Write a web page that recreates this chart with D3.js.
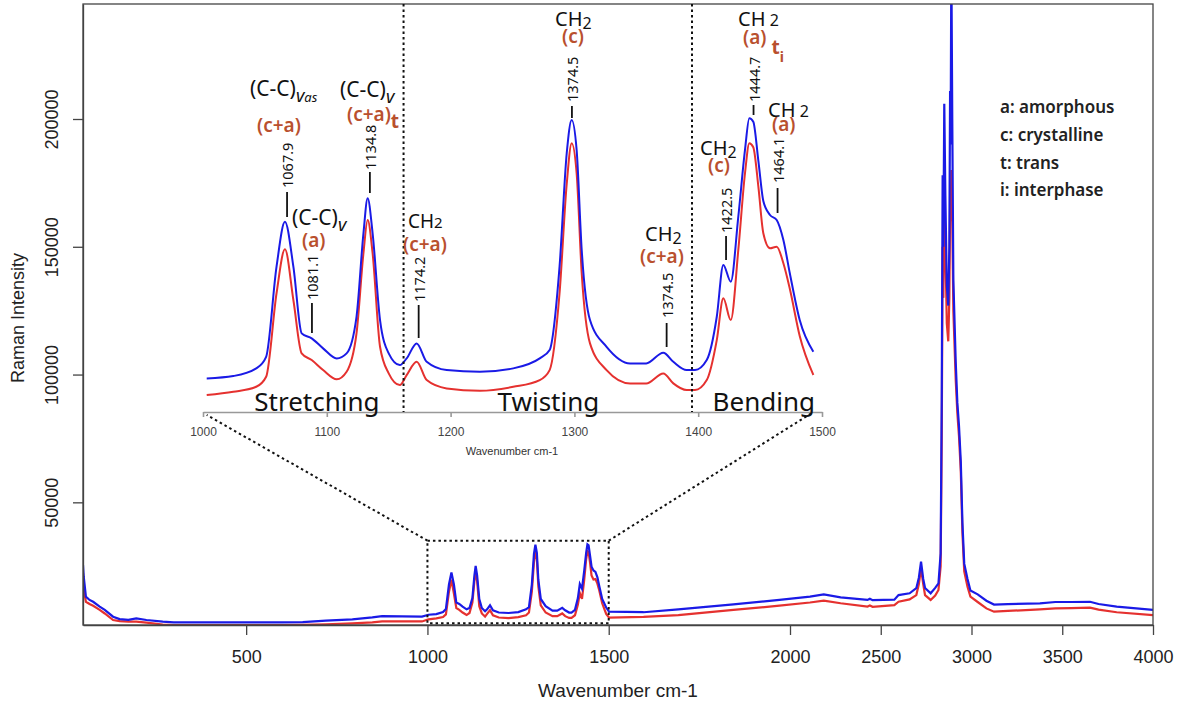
<!DOCTYPE html>
<html>
<head>
<meta charset="utf-8">
<script src="https://cdn.jsdelivr.net/npm/d3@7"></script>
<style>
body { margin: 0; background: #fff; }
text { font-family: "Noto Sans", sans-serif; }
.axis text { font-family: "Liberation Sans", Arial, sans-serif; }
</style>
</head>
<body>
<div id="chart"></div>
<script>
// ---- spectrum, low part (50 - 1000 cm-1)
var lowWn   = [50, 52, 58, 68, 78, 96, 110, 133, 151, 175, 197, 225, 270, 300, 400, 500, 600, 656, 720, 793, 848, 875, 930, 985];
var lowBlue = [25500, 20900, 13100, 11800, 11100, 9200, 7900, 5250, 4300, 4000, 4600, 3950, 3300, 3050, 3050, 3050, 3050, 3100, 3700, 4200, 5000, 5500, 5400, 5300];
var lowRed  = [22300, 16000, 11100, 10200, 9500, 7900, 6500, 3950, 3500, 3300, 3300, 2900, 2200, 2000, 2000, 2000, 2000, 2050, 2300, 2650, 3000, 3400, 3400, 3400];

// ---- zoomed part (1000 - 1500 cm-1), used in the inset too
var zoomWn   = [1003, 1024.5, 1043, 1051, 1059.4, 1066.2, 1073, 1079.7, 1087.8, 1097, 1108, 1116, 1124, 1129.6, 1133, 1137, 1143, 1150, 1159, 1164.5,
                1172.6, 1180.7, 1196.8, 1223.7, 1250.6, 1272, 1280, 1288, 1293.8, 1297.8, 1301.8, 1305.9, 1312.6, 1326, 1345, 1358, 1371.8, 1379.9, 1390.7, 1397.4,
                1406.9, 1415, 1420.3, 1426.3, 1432.4, 1437.8, 1441.3, 1444.5, 1448.6, 1452.6, 1458, 1463.4, 1468.8, 1474, 1482, 1493];
var zoomBlue = [6000, 6250, 7060, 8290, 17840, 22600, 17840, 10770, 10240, 9180, 8120, 8650, 12530, 21380, 25090, 21380, 12180, 8650, 7410, 8120,
                9710, 7760, 6880, 6700, 7060, 8120, 9000, 17840, 29860, 33390, 30210, 19610, 12180, 9350, 7590, 7590, 8720, 7760, 6880, 6880,
                7940, 12530, 18020, 16250, 23140, 30210, 33570, 33210, 29050, 24800, 23320, 22790, 20670, 17140, 12180, 8820];
var zoomRed  = [4230, 4580, 5110, 6170, 15020, 19680, 14310, 8650, 7940, 6880, 5900, 6700, 10770, 19260, 22790, 19260, 9350, 6530, 5290, 6350,
                7760, 5820, 4940, 4690, 5110, 5820, 6880, 15020, 26610, 30930, 27750, 17140, 9710, 6880, 5470, 5470, 6530, 5470, 4760, 4760,
                5820, 10060, 14490, 12180, 19610, 27740, 30930, 30500, 26320, 21380, 19790, 19960, 18200, 15500, 10500, 6360];

// ---- high part (1500 - 4000 cm-1)
var highWn   = [1501, 1596, 1692, 1844, 1971, 2110, 2186, 2279, 2427, 2440, 2455, 2575, 2598, 2659, 2696, 2710, 2722, 2734, 2744, 2775, 2800, 2818, 2830,
                2836, 2841, 2845, 2850, 2856, 2864, 2872, 2878, 2882, 2885, 2889, 2894, 2900, 2913, 2922, 2931, 2941, 2950, 2960, 2978, 2994, 3034, 3082,
                3124, 3200, 3377, 3462, 3550, 3653, 3700, 3800, 4000];
var highBlue = [7200, 7000, 8100, 10100, 11800, 13100, 14000, 12800, 11800, 12300, 11700, 11900, 13700, 14400, 16400, 20500, 26800, 20000, 16500, 14400, 16500, 18300, 30000,
                90000, 178000, 150000, 206000, 170000, 135000, 127000, 150000, 211000, 190000, 262000, 200000, 137000, 105000, 89000, 80000, 66000, 42000, 26000, 20000, 15500, 14000, 11500,
                10000, 10200, 10500, 11000, 11000, 11100, 10200, 9200, 7900];
var highRed  = [4850, 5200, 5900, 7900, 9550, 10800, 11500, 10500, 9200, 9600, 9100, 9800, 11100, 12000, 13700, 18000, 24200, 18000, 13700, 11800, 13500, 15700, 25000,
                75000, 150000, 130000, 165000, 150000, 120000, 113000, 130000, 165000, 160000, 180000, 160000, 125000, 98000, 85000, 76000, 62000, 38000, 23000, 17000, 13100, 11000, 8500,
                7200, 7500, 8100, 8500, 8600, 8800, 8000, 7000, 5900];

var xTicks = [500, 1000, 1500, 2000, 2500, 3000, 3500, 4000];
var yTicks = [50000, 100000, 150000, 200000];
var insetTicks = [1000, 1100, 1200, 1300, 1400, 1500];

var peakWn   = [1067.9, 1088, 1134.8, 1174.2, 1298, 1374.5, 1422.5, 1444.7, 1464.1];
var peakText = ["1067.9", "1081.1", "1134.8", "1174.2", "1374.5", "1374.5", "1422.5", "1444.7", "1464.1"];

var dividerWn  = [1162, 1395];
var regionWn   = [1092, 1279, 1453];
var regionText = ["Stretching", "Twisting", "Bending"];

var legendText = ["a: amorphous", "c: crystalline", "t: trans", "i: interphase"];

// ---- layout
var W = 1181, H = 701;
var blue = "#1a1ae6", red = "#e5312f", brown = "#b9502e";
var markTextBottom = [188, 300, 170, 302, 102, 318, 233, 102, 183];
var markTop        = [192, 303, 172, 305, 106, 323, 236, 105, 188];
var markBottom     = [217, 333, 193, 338, 118, 347, 260, 115, 213];

var svg = d3.select("#chart").append("svg").attr("width", W).attr("height", H);

var x = d3.scaleLinear().domain([50, 2000, 4000]).range([83, 790, 1153]);
var y = d3.scaleLinear().domain([2000, 245000]).range([625, 4]);
var ix = d3.scaleLinear().domain([1000, 1500]).range([203, 822]);
var iy = d3.scaleLinear().domain([0, 46100]).range([435, 0]);

function pts(w, v) { return w.map(function (d, i) { return [d, v[i]]; }); }
var blueAll = pts(lowWn.concat(zoomWn, highWn), lowBlue.concat(zoomBlue, highBlue));
var redAll  = pts(lowWn.concat(zoomWn, highWn), lowRed.concat(zoomRed, highRed));

svg.append("clipPath").attr("id", "clip").append("rect")
    .attr("x", 83).attr("y", 4).attr("width", 1070).attr("height", 621);

var mainLine = d3.line().x(function (d) { return x(d[0]); }).y(function (d) { return y(d[1]); });
var g = svg.append("g").attr("clip-path", "url(#clip)");
g.append("path").attr("d", mainLine(redAll)).attr("fill", "none").attr("stroke", red).attr("stroke-width", 2.2);
g.append("path").attr("d", mainLine(blueAll)).attr("fill", "none").attr("stroke", blue).attr("stroke-width", 2.2);

// axes
var xa = svg.append("g").attr("class", "axis").attr("transform", "translate(0,625)")
    .call(d3.axisBottom(x).tickValues(xTicks).tickSize(10).tickSizeOuter(0).tickPadding(15).tickFormat(d3.format("d")));
xa.selectAll("text").attr("font-size", 18).attr("fill", "#222");
xa.selectAll("line,path").attr("stroke", "#444").attr("stroke-width", 1.3);

var ya = svg.append("g").attr("class", "axis").attr("transform", "translate(83,0)")
    .call(d3.axisLeft(y).tickValues(yTicks).tickSize(10).tickSizeOuter(0).tickFormat(d3.format("d")));
ya.selectAll("line,path").attr("stroke", "#444").attr("stroke-width", 1.3);
ya.selectAll("text").attr("font-size", 18).attr("fill", "#222")
    .attr("text-anchor", "middle").attr("dy", null).attr("dominant-baseline", "central")
    .attr("x", 0).attr("transform", "translate(-31,0) rotate(-90)");

svg.append("rect").attr("x", 83).attr("y", 4).attr("width", 1070).attr("height", 621)
    .attr("fill", "none").attr("stroke", "#444").attr("stroke-width", 1.3);

svg.append("text").attr("x", 618).attr("y", 697).attr("text-anchor", "middle")
    .style("font-family", "Liberation Sans, Arial, sans-serif").attr("font-size", 19).attr("fill", "#222")
    .text("Wavenumber cm-1");
svg.append("text").attr("transform", "translate(24,318) rotate(-90)").attr("text-anchor", "middle")
    .style("font-family", "Liberation Sans, Arial, sans-serif").attr("font-size", 18).attr("fill", "#222")
    .text("Raman Intensity");

// zoom box and connectors
var dots = "2.5,3";
var boxTop = y(35000), boxBot = y(2700);
svg.append("rect").attr("x", x(1000)).attr("y", boxTop).attr("width", x(1500) - x(1000)).attr("height", boxBot - boxTop)
    .attr("fill", "none").attr("stroke", "#111").attr("stroke-width", 2).attr("stroke-dasharray", dots);
svg.append("line").attr("x1", x(1000)).attr("y1", boxTop).attr("x2", ix(zoomWn[0])).attr("y2", 415)
    .attr("stroke", "#111").attr("stroke-width", 2).attr("stroke-dasharray", dots);
svg.append("line").attr("x1", x(1500)).attr("y1", boxTop).attr("x2", ix(zoomWn[zoomWn.length - 1])).attr("y2", 412)
    .attr("stroke", "#111").attr("stroke-width", 2).attr("stroke-dasharray", dots);

// inset
var inset = svg.append("g");
var insetLine = d3.line().curve(d3.curveMonotoneX)
    .x(function (d) { return ix(d[0]); }).y(function (d) { return iy(d[1]); });
inset.append("path").attr("d", insetLine(pts(zoomWn, zoomRed))).attr("fill", "none").attr("stroke", red).attr("stroke-width", 2);
inset.append("path").attr("d", insetLine(pts(zoomWn, zoomBlue))).attr("fill", "none").attr("stroke", blue).attr("stroke-width", 2);

var ia = inset.append("g").attr("class", "axis").attr("transform", "translate(0,412)")
    .call(d3.axisBottom(ix).tickValues(insetTicks).tickSize(5).tickSizeOuter(0).tickPadding(10).tickFormat(d3.format("d")));
ia.selectAll("line,path").attr("stroke", "#999").attr("stroke-width", 1.6);
ia.selectAll("text").attr("font-size", 12).attr("fill", "#444");
inset.append("text").attr("x", 512).attr("y", 455).attr("text-anchor", "middle")
    .style("font-family", "Liberation Sans, Arial, sans-serif").attr("font-size", 11).attr("fill", "#333")
    .text("Wavenumber cm-1");

inset.selectAll(".divider").data(dividerWn).enter().append("line")
    .attr("x1", function (d) { return ix(d); }).attr("x2", function (d) { return ix(d); })
    .attr("y1", 4).attr("y2", 412)
    .attr("stroke", "#111").attr("stroke-width", 2).attr("stroke-dasharray", dots);

inset.selectAll(".region").data(regionText).enter().append("text")
    .attr("x", function (d, i) { return ix(regionWn[i]); }).attr("y", 411)
    .attr("text-anchor", "middle").attr("font-size", 26).attr("fill", "#111")
    .text(function (d) { return d; });

// peak markers
peakWn.forEach(function (w, i) {
    var px = ix(w);
    inset.append("line").attr("x1", px).attr("x2", px).attr("y1", markTop[i]).attr("y2", markBottom[i])
        .attr("stroke", "#111").attr("stroke-width", 1.8);
    inset.append("text").attr("transform", "translate(" + px + "," + markTextBottom[i] + ") rotate(-90)")
        .attr("dominant-baseline", "central").attr("font-size", 14.5).attr("fill", "#111")
        .text(peakText[i]);
});

// band labels: parts = [text, size, dy, style, weight]
function label(px, py, color, weight, parts) {
    var t = inset.append("text").attr("x", px).attr("y", py).attr("fill", color).attr("font-weight", weight);
    parts.forEach(function (p) {
        t.append("tspan").attr("font-size", p[1]).attr("dy", p[2]).attr("font-style", p[3] || "normal")
            .attr("font-weight", p[4] || weight).text(p[0]);
    });
}
label(250, 96, "#111", 400, [["(C-C)", 21, 0], ["v", 18, 6, "italic"], ["as", 13, 0, "italic"]]);
label(257, 132, brown, 600, [["(c+a)", 19, 0]]);
label(292, 225, "#111", 400, [["(C-C)", 21, 0], ["v", 18, 6, "italic"]]);
label(302, 247, brown, 600, [["(a)", 19, 0]]);
label(340, 97, "#111", 400, [["(C-C)", 21, 0], ["v", 18, 6, "italic"]]);
label(347, 121, brown, 600, [["(c+a)", 19, 0], ["t", 19, 7, "normal", 700]]);
label(408, 228, "#111", 400, [["CH", 19, 0], ["2", 15, 0]]);
label(403, 251, brown, 600, [["(c+a)", 19, 0]]);
label(555, 26, "#111", 400, [["CH", 20, 0], ["2", 16, 3]]);
label(562, 43, brown, 600, [["(c)", 19, 0]]);
label(645, 241, "#111", 400, [["CH", 20, 0], ["2", 16, 3]]);
label(640, 263, brown, 600, [["(c+a)", 19, 0]]);
label(700, 155, "#111", 400, [["CH", 20, 0], ["2", 16, 3]]);
label(708, 172, brown, 600, [["(c)", 19, 0]]);
label(738, 26, "#111", 400, [["CH", 20, 0], [" 2", 16, 0]]);
label(743, 44, brown, 600, [["(a)", 19, 0], [" t", 19, 10, "normal", 700], ["i", 14, 8, "normal", 700]]);
label(768, 117, "#111", 400, [["CH", 20, 0], [" 2", 16, 0]]);
label(772, 131, brown, 600, [["(a)", 19, 0]]);

// legend
svg.selectAll(".legend").data(legendText).enter().append("text")
    .attr("x", 1000).attr("y", function (d, i) { return [113, 141, 169, 196][i]; })
    .attr("font-size", 17).attr("font-weight", 600).attr("fill", "#222")
    .text(function (d) { return d; });
</script>
</body>
</html>
